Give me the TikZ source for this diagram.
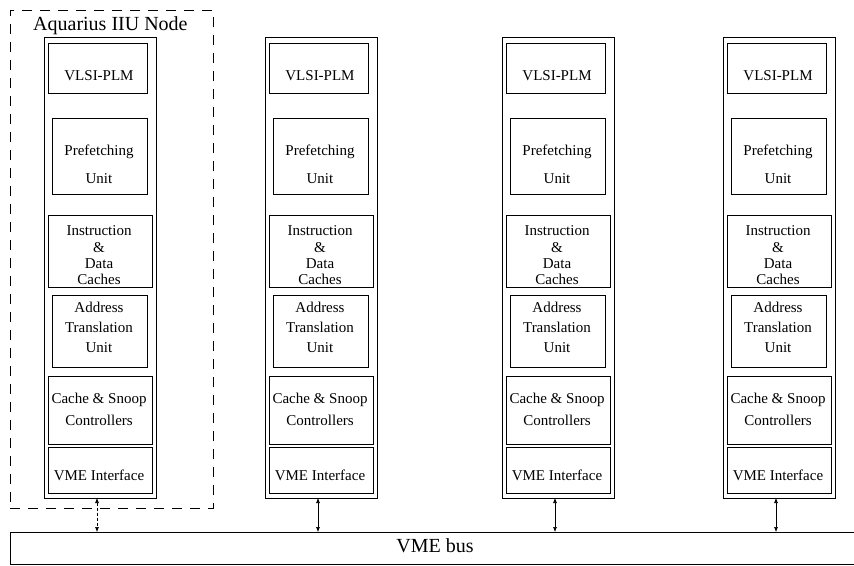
\documentclass[tikz,border=0pt]{standalone}
\usepackage{fontspec}
\setmainfont{Liberation Serif}
\usetikzlibrary{arrows.meta}
\begin{document}
\begin{tikzpicture}[x=1pt,y=-1pt,
  column/.style={draw, line width=0.7pt, inner sep=0pt, anchor=north west,
    minimum width=112pt, minimum height=461pt},
  unitbox/.style={draw, line width=0.8pt, inner sep=0pt, anchor=north west},
  lbl/.style={inner sep=0pt, anchor=base, font=\fontsize{15}{18}\selectfont},
  buslink/.style={line width=0.6pt, {Latex[length=5pt,width=4pt]}-{Latex[length=5pt,width=4pt]}}]
\useasboundingbox (0,0) rectangle (854,565);

% dashed frame around the first node
\node[draw, dash pattern=on 10pt off 8pt, line width=0.7pt, inner sep=0pt,
  anchor=north west, minimum width=203pt, minimum height=498pt] (frame) at (10,10) {};
\node[inner sep=0pt, anchor=base west, font=\fontsize{20}{24}\selectfont] (title) at (33,30) {Aquarius IIU Node};

% the bus
\node[inner sep=0pt, anchor=north west, minimum width=850pt, minimum height=32pt] (bus) at (10,532) {};
\draw[line width=1pt] (bus.north east) -- (bus.north west);
\draw[line width=0.6pt] (bus.north west) -- (bus.south west) -- (bus.south east);
\node[inner sep=0pt, anchor=base, font=\fontsize{20}{24}\selectfont] (busname) at (435,552) {VME bus};

% four processing nodes
\foreach \i/\L in {1/44,2/265,3/502,4/723}{
  \node[column] (c\i) at (\L,37) {};
  \node[unitbox, minimum width=99pt,  minimum height=50pt] (c\i-plm)  at ({\L+4},43)  {};
  \node[unitbox, minimum width=95pt,  minimum height=76pt] (c\i-pre)  at ({\L+8},118) {};
  \node[unitbox, minimum width=104pt, minimum height=72pt] (c\i-idc)  at ({\L+4},215) {};
  \node[unitbox, minimum width=95pt,  minimum height=72pt] (c\i-atu)  at ({\L+8},295) {};
  \node[unitbox, minimum width=104pt, minimum height=68pt] (c\i-csc)  at ({\L+4},376) {};
  \node[unitbox, minimum width=104pt, minimum height=46pt] (c\i-vme)  at ({\L+4},447) {};
  \foreach \y/\t [count=\k] in {80/VLSI-PLM, 155/Prefetching, 183/Unit,
      235/Instruction, 252/\&, 268/Data, 284/Caches,
      312/Address, 332/Translation, 352/Unit,
      403/Cache \& Snoop, 425/Controllers, 480/VME Interface}{
    \node[lbl] (c\i-t\k) at ({\L+55},\y) {\t};
  }
  \coordinate (c\i-port) at ({\L+53},498);
}

% links from each node to the bus
\draw[buslink, densely dashed] (c1-port) -- (c1-port |- bus.north);
\foreach \i in {2,3,4}{
  \draw[buslink] (c\i-port) -- (c\i-port |- bus.north);
}
\end{tikzpicture}
\end{document}
